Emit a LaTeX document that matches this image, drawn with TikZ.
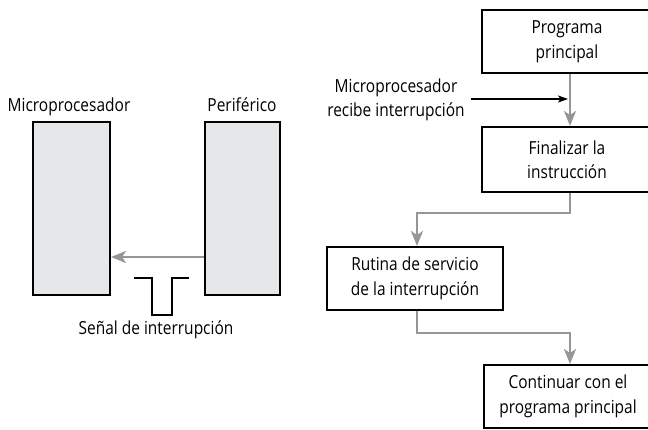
\documentclass[tikz,border=0pt]{standalone}
\usepackage{fontspec}
\setmainfont[FakeStretch=0.86]{Open Sans}
\usetikzlibrary{arrows.meta}
\definecolor{arrowgray}{RGB}{150,150,152}
\definecolor{boxfill}{RGB}{230,231,233}
\tikzset{
  lbl/.style={font=\fontsize{18}{24}\selectfont, inner sep=0pt},
  flowbox/.style={draw=black, line width=2pt, fill=white, align=center,
    font=\fontsize{18}{24.5}\selectfont, inner sep=0pt, minimum width=170pt, minimum height=63pt},
  devbox/.style={draw=black, line width=2pt, fill=boxfill, inner sep=0pt, minimum height=173pt},
  grayarrow/.style={draw=arrowgray, line width=2.3pt, -{Stealth[length=15pt,width=12pt,inset=4pt]}},
  blackarrow/.style={draw=black, line width=1.8pt, -{Stealth[length=10pt,width=7pt,inset=2.5pt]}},
  pulse/.style={draw=black, line width=2.3pt}
}
\begin{document}
\begin{tikzpicture}[x=1pt,y=-1pt]
\useasboundingbox (0,0) rectangle (648,429);
\clip (0,0) rectangle (648,429);
% left part
\node[devbox, minimum width=77pt] (mp) at (71.5,208.5) {};
\node[devbox, minimum width=75pt] (per) at (242.5,208.5) {};
\node[lbl, anchor=base] (mplbl) at (69,111) {Microprocesador};
\node[lbl, anchor=base] (perlbl) at (242,111) {Periférico};
\coordinate (sig) at (0,257);
\draw[grayarrow] (per.west |- sig) -- (mp.east |- sig);
\draw[pulse] (134,278) -- (152,278) -- (152,315) -- (172,315) -- (172,278) -- (189,278);
\node[lbl, anchor=base] (siglbl) at (156,334) {Señal de interrupción};
% right part
\node[flowbox] (b1) at (567,41.5) {Programa\\principal};
\node[flowbox, minimum height=65pt] (b2) at (567,159.5) {Finalizar la\\instrucción};
\node[flowbox, minimum width=176pt] (b3) at (415,278.5) {Rutina de servicio\\de la interrupción};
\node[flowbox, minimum width=168pt, minimum height=63pt] (b4) at (568,396.5) {Continuar con el\\programa principal};
\node[lbl, align=center] (intlbl) at (396,100) {Microprocesador\\recibe interrupción};
\draw[grayarrow] ([xshift=3pt]b1.south) -- ([xshift=3pt]b2.north);
\coordinate (inA) at (471,99);
\coordinate (inB) at (568,99);
\draw[blackarrow] (inA) -- (inB);
\draw[grayarrow] ([xshift=3pt]b2.south) -- ++(0,20) -| ([xshift=2pt]b3.north);
\draw[grayarrow] ([xshift=2pt]b3.south) -- ++(0,22) -| ([xshift=2pt]b4.north);
\end{tikzpicture}
\end{document}
